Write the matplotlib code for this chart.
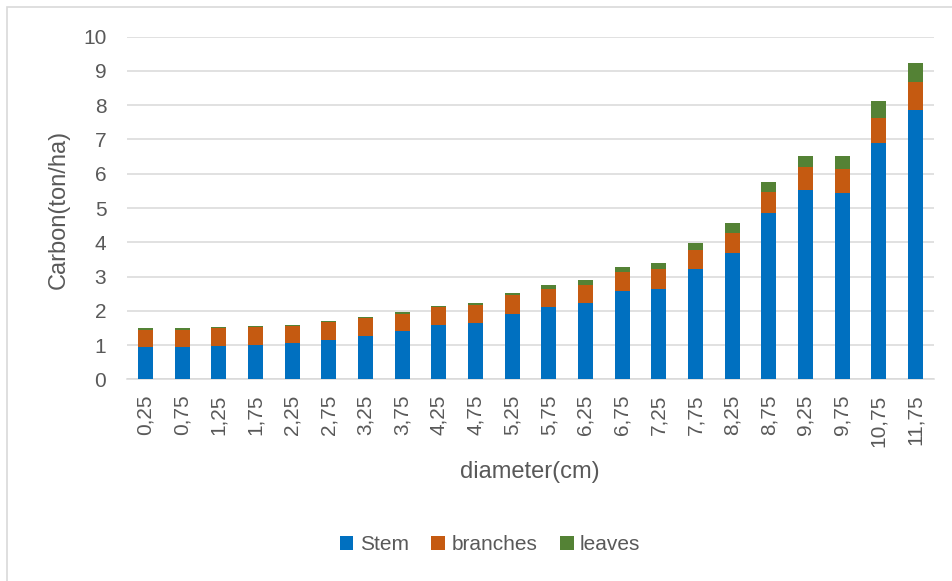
import matplotlib
matplotlib.use("Agg")
import matplotlib.pyplot as plt
from matplotlib.patches import Rectangle
import numpy as np

# Diameter classes (cm) and carbon stock per component (ton/ha)
diameters = ["0,25", "0,75", "1,25", "1,75", "2,25", "2,75", "3,25", "3,75",
             "4,25", "4,75", "5,25", "5,75", "6,25", "6,75", "7,25", "7,75",
             "8,25", "8,75", "9,25", "9,75", "10,75", "11,75"]
stem = [0.95, 0.95, 0.96, 0.99, 1.07, 1.15, 1.26, 1.40, 1.59, 1.64, 1.90,
        2.10, 2.23, 2.57, 2.64, 3.21, 3.69, 4.85, 5.52, 5.44, 6.90, 7.87]
branches = [0.50, 0.50, 0.53, 0.53, 0.49, 0.51, 0.52, 0.52, 0.52, 0.52, 0.56,
            0.54, 0.53, 0.56, 0.58, 0.56, 0.59, 0.63, 0.67, 0.71, 0.74, 0.82]
leaves = [0.04, 0.04, 0.03, 0.04, 0.03, 0.04, 0.04, 0.04, 0.04, 0.06, 0.06,
          0.11, 0.13, 0.14, 0.17, 0.21, 0.27, 0.29, 0.33, 0.37, 0.48, 0.55]
y_ticks = list(range(0, 11))

plt.rcParams["font.family"] = ["Liberation Sans", "DejaVu Sans"]
text_color = "#595959"
grid_color = "#D9D9D9"
c_stem, c_branch, c_leaf = "#0070C0", "#C55A11", "#548235"

W, H = 952, 581
fig = plt.figure(figsize=(W / 100, H / 100), dpi=100)
ax = fig.add_axes([127.2 / W, 1 - 379.3 / H, (933.8 - 127.2) / W, (379.3 - 36.7) / H])

x = np.arange(len(diameters))
stem_a = np.array(stem)
branch_a = np.array(branches)
leaf_a = np.array(leaves)
width = 0.41
ax.bar(x, stem_a, width, color=c_stem, label="Stem", zorder=3)
ax.bar(x, branch_a, width, bottom=stem_a, color=c_branch, label="branches", zorder=3)
ax.bar(x, leaf_a, width, bottom=stem_a + branch_a, color=c_leaf, label="leaves", zorder=3)

ax.set_xlim(-0.5, len(diameters) - 0.5)
ax.set_ylim(0, 10)
ax.set_yticks(y_ticks)
ax.set_yticklabels([str(v) for v in y_ticks])
ax.set_xticks(x)
ax.set_xticklabels(diameters, rotation=90)

ax.grid(axis="y", color=grid_color, linewidth=1.1, zorder=0)
for side in ["top", "right", "left"]:
    ax.spines[side].set_visible(False)
ax.spines["bottom"].set_color(grid_color)
ax.spines["bottom"].set_linewidth(1.1)
ax.tick_params(axis="y", length=0, pad=15, labelsize=15, labelcolor=text_color)
ax.tick_params(axis="x", length=0, pad=11, labelsize=15, labelcolor=text_color)

fig.text(59 / W, 1 - 209 / H, "Carbon(ton/ha)", rotation=90, ha="center", va="center",
         fontsize=17, color=text_color)
fig.text(530 / W, 1 - 472 / H, "diameter(cm)", ha="center", va="center",
         fontsize=17, color=text_color)

leg = fig.legend(loc="center", bbox_to_anchor=(490 / W, 1 - 545 / H), ncol=3,
                 frameon=False, fontsize=15, handlelength=0.65, handleheight=0.65,
                 handletextpad=0.3, columnspacing=1.1, borderaxespad=0)
for t in leg.get_texts():
    t.set_color(text_color)

# Chart-area border
fig.patches.append(Rectangle((7 / W, -0.05), 1.2, 1 - 7 / H + 0.05, transform=fig.transFigure,
                             fill=False, edgecolor=grid_color, linewidth=1.2))

fig.savefig("out.png", dpi=100, facecolor="white")
